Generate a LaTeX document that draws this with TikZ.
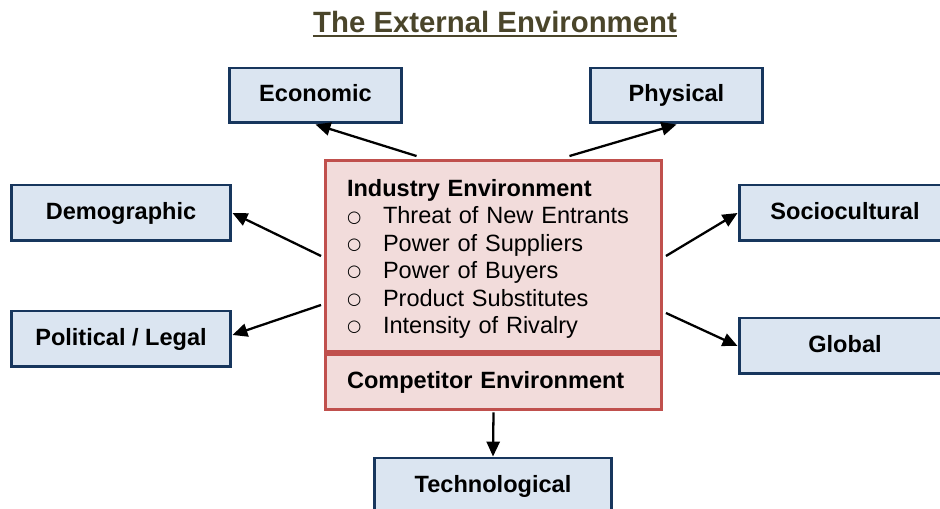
\documentclass[tikz,border=0pt]{standalone}
\usepackage{fontspec}
\setmainfont{Liberation Sans}
\newfontfamily\bulletfont{DejaVu Sans}
\usepackage{tikz}
\usetikzlibrary{arrows.meta, positioning}
\definecolor{envblue}{HTML}{DBE5F1}
\definecolor{envnavy}{HTML}{17365D}
\definecolor{indpink}{HTML}{F2DCDB}
\definecolor{indred}{HTML}{C0504D}
\definecolor{titleolive}{HTML}{4A452A}
\newcommand{\envitem}[1]{\makebox[0.72cm][l]{\raisebox{1pt}{\bulletfont\fontsize{9.3}{9.3}\selectfont ○}}#1}

\begin{document}
\begin{tikzpicture}[x=0.02cm, y=-0.02cm,
    envbox/.style={draw=envnavy, line width=1.7pt, fill=envblue, inner sep=0pt,
        text height=0.72em, text depth=0em,
        font=\fontsize{13.4}{16}\selectfont\bfseries},
    indbox/.style={draw=indred, line width=1.7pt, fill=indpink, align=left,
        inner xsep=0.44cm, inner ysep=0pt, text width=5.86cm,
        font=\fontsize{13.4}{15.6}\selectfont},
    pushes/.style={-{Triangle[length=8.5pt,width=7.5pt]}, line width=1.3pt}]
    \useasboundingbox (0,0) rectangle (940,509);

    % Title
    \node[font=\fontsize{16.7}{20}\selectfont\bfseries, text=titleolive, inner sep=0pt] (title) at (495,22) {The External Environment};
    \draw[titleolive, line width=1.2pt] ([yshift=-2.2pt]title.base west) -- ([yshift=-2.2pt]title.base east);

    % Centre: industry and competitor
    \node[indbox, minimum height=3.84cm] (ind) at (493.5,256) {\rule{0pt}{13pt}\textbf{Industry Environment}\\
        \envitem{Threat of New Entrants}\\
        \envitem{Power of Suppliers}\\
        \envitem{Power of Buyers}\\
        \envitem{Product Substitutes}\\
        \envitem{Intensity of Rivalry}};
    \node[indbox, minimum height=1.1cm, below=0pt of ind] (comp) {\textbf{Competitor Environment}};

    % Outer segments
    \node[envbox, minimum width=3.46cm, minimum height=1.1cm] (econ) at (315.5,95.5) {Economic};
    \node[envbox, minimum width=3.46cm, minimum height=1.1cm] (phys) at (676.5,95.5) {Physical};
    \node[envbox, minimum width=4.4cm, minimum height=1.12cm] (demo) at (121,213) {Demographic};
    \node[envbox, minimum width=4.4cm, minimum height=1.12cm] (pol) at (121,339) {Political / Legal};
    \node[envbox, minimum width=4.24cm, minimum height=1.12cm] (socio) at (845,213) {Sociocultural};
    \node[envbox, minimum width=4.24cm, minimum height=1.12cm] (glob) at (845,346) {Global};
    \node[envbox, minimum width=4.76cm, minimum height=1.12cm] (tech) at (493,486) {Technological};

    % Arrows
    \draw[pushes] ([xshift=1.86cm, yshift=0.05cm]ind.north west) -- (econ.south);
    \draw[pushes] ([xshift=-1.88cm, yshift=0.05cm]ind.north east) -- (phys.south);
    \draw[pushes] ([xshift=-0.05cm]ind.west) -- (demo.east);
    \draw[pushes] ([xshift=-0.05cm, yshift=-0.98cm]ind.west) -- ([yshift=0.08cm]pol.east);
    \draw[pushes] ([xshift=0.05cm]ind.east) -- (socio.west);
    \draw[pushes] ([xshift=0.05cm, yshift=-1.14cm]ind.east) -- (glob.west);
    \draw[pushes] ([yshift=-0.02cm]comp.south) -- (tech.north);
\end{tikzpicture}
\end{document}
